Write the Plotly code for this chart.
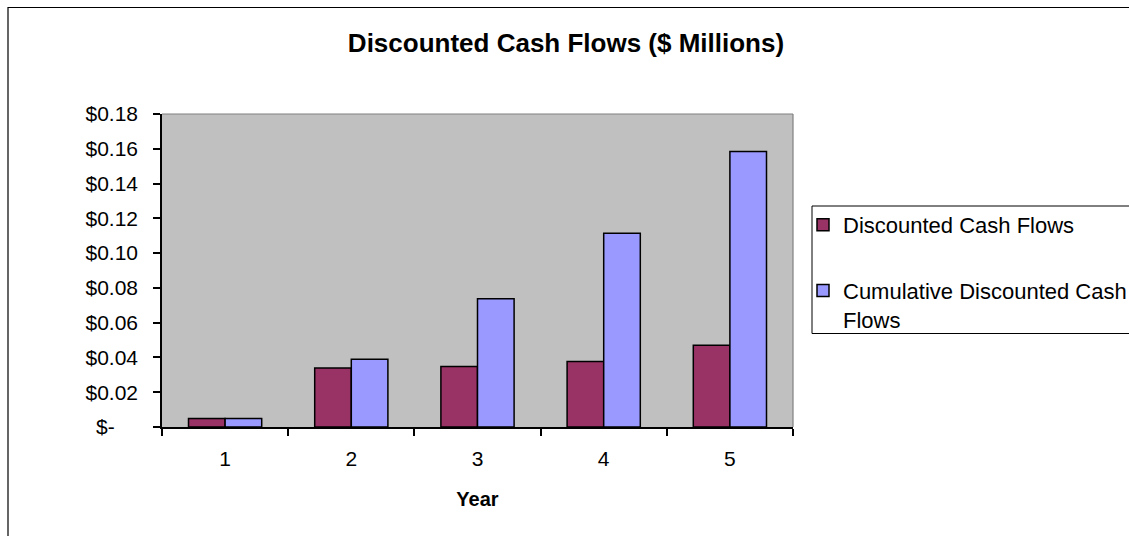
import plotly.graph_objects as go

# Years on the category axis
years = ["1", "2", "3", "4", "5"]

# Discounted cash flow per year ($ millions)
discounted = [0.0049, 0.0340, 0.0348, 0.0377, 0.0470]
# Running total of the discounted cash flows ($ millions)
cumulative = [0.0049, 0.0389, 0.0737, 0.1114, 0.1584]

# Value axis ticks and their accounting-style labels
y_ticks = [0.0, 0.02, 0.04, 0.06, 0.08, 0.10, 0.12, 0.14, 0.16, 0.18]
y_tick_labels = ["$-&nbsp;&nbsp;&nbsp;&nbsp;", "$0.02", "$0.04", "$0.06", "$0.08",
                 "$0.10", "$0.12", "$0.14", "$0.16", "$0.18"]

FONT = "Liberation Sans, Arial, sans-serif"
W, H = 1129, 536
L, R, T, B = 162, 793, 114, 427          # plot-area edges in pixels
pw, ph = R - L, B - T


def px_x(x):
    return (x - L) / pw


def px_y(y):
    return (B - y) / ph


fig = go.Figure()
fig.add_trace(go.Bar(
    x=years, y=discounted, name="Discounted Cash Flows",
    marker=dict(color="#993366", line=dict(color="black", width=1.5)),
    legendgroup="a",
))
fig.add_trace(go.Bar(
    x=years, y=cumulative, name="Cumulative Discounted Cash<br>Flows",
    marker=dict(color="#9999FF", line=dict(color="black", width=1.5)),
    legendgroup="b",
))

shapes = [
    # chart outer frame
    dict(type="rect", xref="paper", yref="paper",
         x0=px_x(8), x1=px_x(1140), y0=px_y(545), y1=px_y(7.5),
         line=dict(color="black", width=1.2), fillcolor="rgba(0,0,0,0)", layer="below"),
    # plot area top and right edges
    dict(type="line", xref="paper", yref="paper", x0=0, x1=1, y0=1, y1=1,
         line=dict(color="#808080", width=1.2)),
    dict(type="line", xref="paper", yref="paper", x0=1, x1=1, y0=0, y1=1,
         line=dict(color="#808080", width=1.2)),
    # legend frame
    dict(type="rect", xref="paper", yref="paper",
         x0=px_x(812), x1=px_x(1145), y0=px_y(333.5), y1=px_y(206),
         line=dict(color="black", width=1), fillcolor="white", layer="below"),
]

fig.update_layout(
    width=W, height=H,
    margin=dict(l=L, r=W - R, t=T, b=H - B, autoexpand=False),
    paper_bgcolor="white",
    plot_bgcolor="#C0C0C0",
    barmode="group",
    bargap=0.42,
    bargroupgap=0,
    font=dict(family=FONT, color="black"),
    title=dict(text="<b>Discounted Cash Flows ($ Millions)</b>",
               x=566 / W, xanchor="center", y=1 - 43 / H, yanchor="middle",
               font=dict(family=FONT, size=26, color="black")),
    xaxis=dict(
        type="category", categoryorder="array", categoryarray=years,
        showline=True, linecolor="black", linewidth=1.5,
        ticks="outside", tickson="boundaries", ticklen=7, tickcolor="black", tickwidth=1.5,
        tickfont=dict(family=FONT, size=21),
        ticklabelstandoff=12,
        showgrid=False, zeroline=False,
        title=dict(text="<b>Year</b>", font=dict(family=FONT, size=20), standoff=23),
    ),
    yaxis=dict(
        range=[0, 0.18], tickvals=y_ticks, ticktext=y_tick_labels,
        showline=True, linecolor="black", linewidth=1.5,
        ticks="outside", ticklen=7, tickcolor="black", tickwidth=1.5,
        tickfont=dict(family=FONT, size=21),
        ticklabelstandoff=11,
        showgrid=False, zeroline=False,
    ),
    showlegend=True,
    legend=dict(
        x=px_x(803), xanchor="left", y=px_y(204), yanchor="top",
        traceorder="grouped", tracegroupgap=34, valign="top",
        bgcolor="rgba(0,0,0,0)", borderwidth=0,
        font=dict(family=FONT, size=22, color="black"),
    ),
    shapes=shapes,
)

fig.write_html("out.html")
